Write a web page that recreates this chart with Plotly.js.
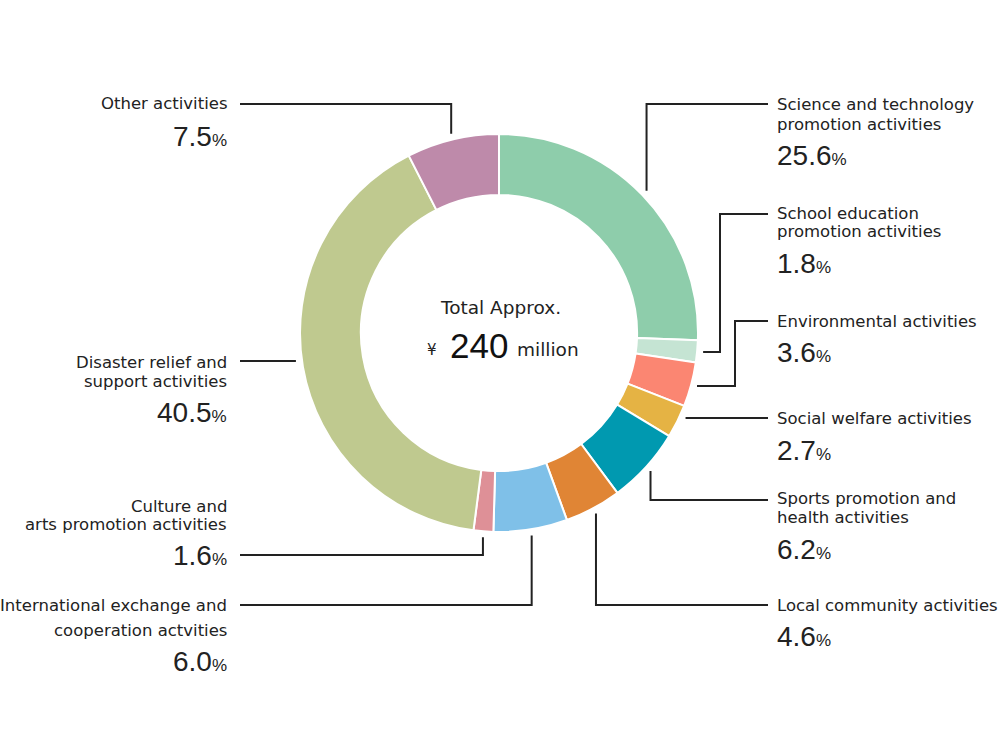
<!DOCTYPE html>
<html>
<head>
<meta charset="utf-8">
<script src="https://cdn.plot.ly/plotly-3.0.1.min.js"></script>
<style>html,body{margin:0;padding:0;background:#fff;}#chart{width:1000px;height:747px;}</style>
</head>
<body>
<div id="chart"></div>
<script>
// ---- data ----
const categories = [
  "Science and technology promotion activities",
  "School education promotion activities",
  "Environmental activities",
  "Social welfare activities",
  "Sports promotion and health activities",
  "Local community activities",
  "International exchange and cooperation actvities",
  "Culture and arts promotion activities",
  "Disaster relief and support activities",
  "Other activities"
];
const shares = [25.6, 1.8, 3.6, 2.7, 6.2, 4.6, 6.0, 1.6, 40.5, 7.5];
const labelLines = [
  ["Science and technology", "promotion activities"],
  ["School education", "promotion activities"],
  ["Environmental activities"],
  ["Social welfare activities"],
  ["Sports promotion and", "health activities"],
  ["Local community activities"],
  ["International exchange and", "cooperation actvities"],
  ["Culture and", "arts promotion activities"],
  ["Disaster relief and", "support activities"],
  ["Other activities"]
];
const centerTitle = "Total Approx.";
const centerAmount = "240";
const centerCurrency = "¥";
const centerUnit = "million";

// ---- style / layout ----
const sliceColors = ["#8ecdab","#c5e4d3","#fb8672","#e5b344","#0099b0","#e08535","#7fc0e8","#de9097","#bfc98f","#be8aaa"];
const W = 1000, H = 747, CX = 499, CY = 333, R = 199;
const place = [
  {side:'R', route:'v', lineY:104, ys:[105,124], pctY:155},
  {side:'R', route:'h', elbowX:720, lineY:214, ys:[213,232], pctY:264},
  {side:'R', route:'h', elbowX:735, lineY:321, ys:[321], pctY:352},
  {side:'R', route:'d', lineY:418, ys:[418], pctY:450},
  {side:'R', route:'v', lineY:500, ys:[498,517], pctY:549},
  {side:'R', route:'v', lineY:605, ys:[605], pctY:636},
  {side:'L', route:'v', lineY:605, ys:[605,630], pctY:661},
  {side:'L', route:'v', lineY:555, ys:[506,524], pctY:555},
  {side:'L', route:'d', lineY:361, ys:[362,381], pctY:412},
  {side:'L', route:'v', lineY:104, ys:[104], pctY:136}
];
const textFont = {family:"DejaVu Sans", size:16.5, color:"#222"};
const centerFont = {family:"DejaVu Sans", size:18.5, color:"#222"};
const pctFont = {family:"Liberation Sans, Arial, sans-serif", size:28, color:"#222"};
const lineColor = "#222";

const px = x => x / W;
const py = y => 1 - y / H;

const total = shares.reduce((a,b)=>a+b,0);
let cum = 0;
const midAngles = shares.map(v => { const m = (cum + v/2) / total * 2 * Math.PI; cum += v; return m; });

const shapes = [];
const annotations = [];
const gap = 6;
place.forEach((p, i) => {
  const r = R + gap;
  const th = midAngles[i];
  const endX = p.side === 'R' ? 768 : 240;
  let pts;
  if (p.route === 'd') {
    const dy = p.lineY - CY;
    const dx = Math.sqrt(Math.max(r*r - dy*dy, 0)) * (Math.sin(th) >= 0 ? 1 : -1);
    pts = [[CX + dx, p.lineY], [endX, p.lineY]];
  } else {
    const ax = CX + r * Math.sin(th), ay = CY - r * Math.cos(th);
    if (p.route === 'v') pts = [[ax, ay], [ax, p.lineY], [endX, p.lineY]];
    else pts = [[ax, ay], [p.elbowX, ay], [p.elbowX, p.lineY], [endX, p.lineY]];
  }
  const path = pts.map((q, k) => (k ? 'L' : 'M') + px(q[0]).toFixed(5) + ',' + py(q[1]).toFixed(5)).join(' ');
  shapes.push({type:'path', xref:'paper', yref:'paper', path, line:{color:lineColor, width:2}});

  const tx = p.side === 'R' ? 775 : 229;
  const anchor = p.side === 'R' ? 'left' : 'right';
  labelLines[i].forEach((t, k) => {
    annotations.push({xref:'paper', yref:'paper', x:px(tx), y:py(p.ys[k]), xanchor:anchor, yanchor:'middle',
      text:t, showarrow:false, font:textFont, align:anchor});
  });
  annotations.push({xref:'paper', yref:'paper', x:px(p.side==='R' ? 775 : 229), y:py(p.pctY), xanchor:anchor, yanchor:'middle',
    text: shares[i].toFixed(1) + '<span style="font-size:17px">%</span>', showarrow:false, font:pctFont});
});

// center text
annotations.push({xref:'paper', yref:'paper', x:px(500), y:py(307), xanchor:'center', yanchor:'middle',
  text:centerTitle, showarrow:false, font:centerFont});
annotations.push({xref:'paper', yref:'paper', x:px(432), y:py(350), xanchor:'center', yanchor:'middle',
  text:centerCurrency, showarrow:false, font:{family:"DejaVu Sans", size:15, color:"#222"}});
annotations.push({xref:'paper', yref:'paper', x:px(478.5), y:py(345), xanchor:'center', yanchor:'middle',
  text:centerAmount, showarrow:false, font:{family:"Liberation Sans, Arial, sans-serif", size:35, color:"#111"}});
annotations.push({xref:'paper', yref:'paper', x:px(515), y:py(349), xanchor:'left', yanchor:'middle',
  text:centerUnit, showarrow:false, font:centerFont});

const trace = {
  type:'pie',
  labels: categories,
  values: shares,
  sort:false,
  direction:'clockwise',
  rotation:0,
  hole:0.694,
  textinfo:'none',
  hoverinfo:'label+percent',
  marker:{colors:sliceColors, line:{color:'#ffffff', width:2}},
  domain:{x:[(CX-R)/W, (CX+R)/W], y:[(H-CY-R)/H, (H-CY+R)/H]},
  showlegend:false
};

const layout = {
  width:W, height:H,
  margin:{l:0, r:0, t:0, b:0},
  paper_bgcolor:'#ffffff',
  plot_bgcolor:'#ffffff',
  showlegend:false,
  shapes, annotations
};
Plotly.newPlot('chart', [trace], layout, {displayModeBar:false, staticPlot:true});
</script>
</body>
</html>
